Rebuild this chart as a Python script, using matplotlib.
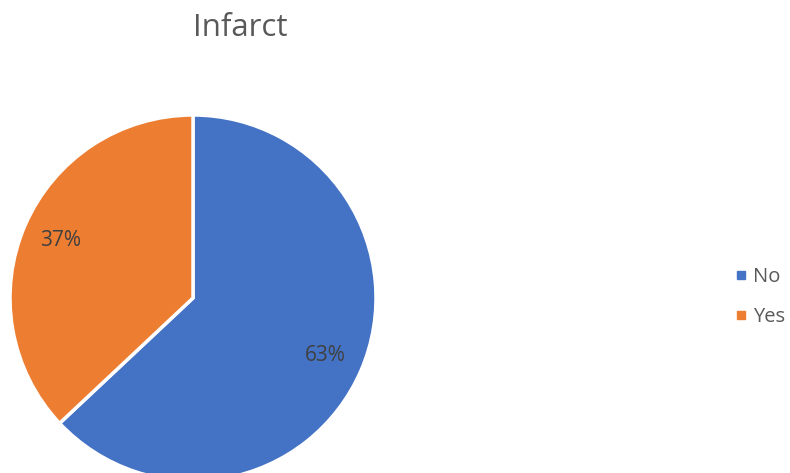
import matplotlib
matplotlib.use("Agg")
import matplotlib.pyplot as plt
from matplotlib.lines import Line2D

plt.rcParams['font.family'] = ['Open Sans', 'DejaVu Sans']

labels = ["No", "Yes"]
values = [63, 37]
colors = ["#4472C4", "#ED7D31"]
title = "Infarct"

W, H = 790, 473
fig = plt.figure(figsize=(W / 100, H / 100), dpi=100)
ax = fig.add_axes([0, 0, 1, 1])
ax.set_xlim(0, W)
ax.set_ylim(0, H)
ax.set_aspect('equal')
ax.axis('off')

wedges, texts, autotexts = ax.pie(
    values, colors=colors, startangle=90, counterclock=False,
    center=(193, H - 298), radius=183,
    autopct='%1.0f%%', pctdistance=0.79,
    wedgeprops=dict(edgecolor='white', linewidth=2.5),
    textprops=dict(color='#404040', fontsize=15),
)
ax.set_xlim(0, W)
ax.set_ylim(0, H)

fig.text(240 / W, 1 - 28 / H, title, ha='center', va='center',
         fontsize=22.5, color='#595959')

handles = [Line2D([0], [0], marker='s', linestyle='none', markersize=6,
                  markerfacecolor=c, markeredgecolor=c) for c in colors]
fig.legend(handles, labels, loc='center left',
           bbox_to_anchor=(716 / W, 1 - 297 / H), frameon=False,
           fontsize=14.5, labelcolor='#595959', handletextpad=0.25,
           handlelength=0.7, labelspacing=1.0)

fig.savefig('out.png', dpi=100, facecolor='white')
